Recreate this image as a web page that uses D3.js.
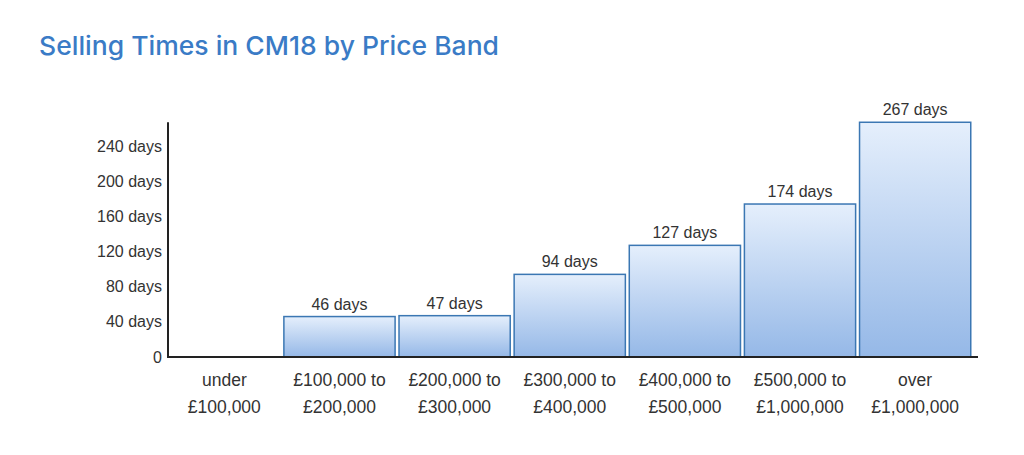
<!DOCTYPE html>
<html><head><meta charset="utf-8">
<script src="https://cdn.jsdelivr.net/npm/d3@7"></script>
<style>body{margin:0;background:#fff;}svg{display:block;}</style>
</head><body>
<svg id="c" width="1024" height="455"></svg>
<script>
const categories = [["under","£100,000"],["£100,000 to","£200,000"],["£200,000 to","£300,000"],["£300,000 to","£400,000"],["£400,000 to","£500,000"],["£500,000 to","£1,000,000"],["over","£1,000,000"]];
const values = [0,46,47,94,127,174,267];
const tickValues = [0,40,80,120,160,200,240];
const title = "Selling Times in CM18 by Price Band";

const svg = d3.select("#c");
const x = d3.scaleBand().domain(d3.range(categories.length)).range([168,971.5]).paddingInner(0.021).paddingOuter(0);
const y = d3.scaleLinear().domain([0,240]).range([357,146]);

const defs = svg.append("defs");
const g = defs.append("linearGradient").attr("id","bg").attr("x1",0).attr("y1",0).attr("x2",0).attr("y2",1);
g.append("stop").attr("offset","0%").attr("stop-color","#e5effc");
g.append("stop").attr("offset","100%").attr("stop-color","#95b8e7");

svg.append("text").attr("x",39).attr("y",55).attr("fill","#3a7bc6")
  .attr("font-family","Inter, Open Sans, sans-serif").attr("font-size",26).attr("font-weight",500)
  .attr("textLength",460).attr("lengthAdjust","spacingAndGlyphs").text(title);

const data = values.map((v,i)=>({v,i})).filter(d=>d.v>0);

// bars
svg.selectAll("rect.bar").data(data).join("rect").attr("class","bar")
  .attr("x",d=>x(d.i)+0.75)
  .attr("y",d=>y(d.v))
  .attr("width",x.bandwidth()-1.5)
  .attr("height",d=>y(0)-y(d.v))
  .attr("fill","url(#bg)").attr("stroke","#3b77b3").attr("stroke-width",1.5);

// value labels
svg.selectAll("text.val").data(data).join("text").attr("class","val")
  .attr("x",d=>x(d.i)+x.bandwidth()/2).attr("y",d=>y(d.v)-7)
  .attr("text-anchor","middle").attr("font-family","Liberation Sans, Arial, sans-serif")
  .attr("font-size",16).attr("fill","#333").text(d=>d.v+" days");

// y axis
const ya = d3.axisLeft(y).tickValues(tickValues).tickSize(0).tickPadding(6)
  .tickFormat(d=>d===0?"0":d+" days");
const yg = svg.append("g").attr("transform","translate(168,0)").call(ya);
yg.select(".domain").remove();
yg.selectAll("text").attr("font-family","Liberation Sans, Arial, sans-serif").attr("font-size",16).attr("fill","#333");
svg.append("line").attr("x1",168).attr("x2",168).attr("y1",y(267)).attr("y2",y(0)+1).attr("stroke","#222").attr("stroke-width",2);

// x axis
const xa = d3.axisBottom(x).tickSize(0).tickFormat("");
const xg = svg.append("g").attr("transform",`translate(0,${y(0)})`).call(xa);
xg.select(".domain").remove();
svg.append("line").attr("x1",167).attr("x2",978).attr("y1",y(0)).attr("y2",y(0)).attr("stroke","#222").attr("stroke-width",2);
categories.forEach((c,i)=>{
  const t = svg.append("text").attr("text-anchor","middle").attr("font-family","Liberation Sans, Arial, sans-serif")
    .attr("font-size",17.5).attr("fill","#333");
  c.forEach((line,j)=>t.append("tspan").attr("x",x(i)+x.bandwidth()/2).attr("y",386+j*27).text(line));
});
</script>
</body></html>
